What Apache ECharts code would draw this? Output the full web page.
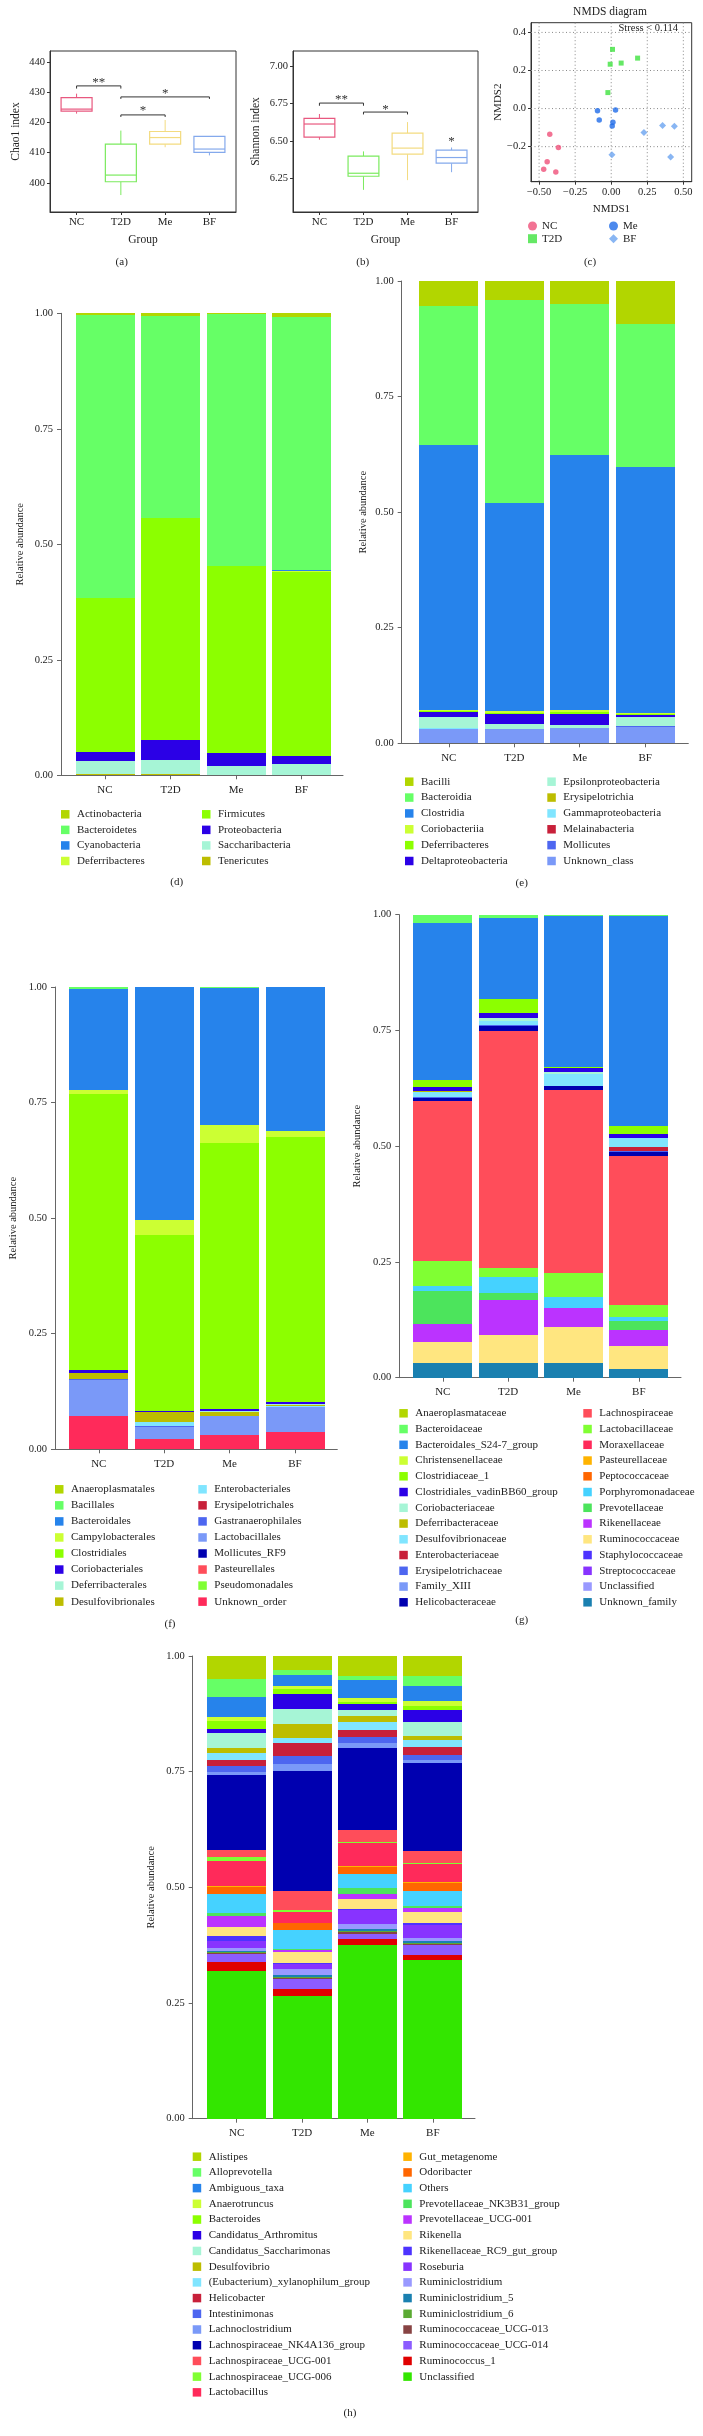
<!DOCTYPE html>
<html><head><meta charset="utf-8">
<script src="https://cdn.jsdelivr.net/npm/echarts@6/dist/echarts.min.js"></script>
<style>
html,body{margin:0;padding:0;background:#fff;}
#page{position:relative;width:703px;height:2436px;overflow:hidden;background:#fff;}
.panel{position:absolute;}
</style></head><body><div id="page"></div>
<script>
// ================= DATA =================
const groups = ['NC', 'T2D', 'Me', 'BF'];

// (a) Chao1 index: [min, q1, median, q3, max]
const chao1NC  = [422.9, 423.7, 424.4, 428.2, 429.5];
const chao1T2D = [396.0, 400.4, 402.6, 412.8, 417.3];
const chao1Me  = [411.8, 412.8, 415.0, 417.0, 420.8];
const chao1BF  = [409.1, 410.1, 411.2, 415.4, 415.4];
const chao1Ticks = [400, 410, 420, 430, 440];
// brackets: [fromGroup, toGroup, level, tickEnd]
const chao1Brackets = [[0, 1, 432.07, 431.18], [1, 3, 428.43, 427.77], [1, 2, 422.48, 421.8]];
const chao1Stars = [[0.5, 433.9, '**'], [2, 430.3, '*'], [1.5, 424.5, '*']];

// (b) Shannon index
const shannonNC  = [6.507, 6.525, 6.612, 6.650, 6.679];
const shannonT2D = [6.172, 6.263, 6.283, 6.397, 6.429];
const shannonMe  = [6.237, 6.411, 6.451, 6.551, 6.625];
const shannonBF  = [6.290, 6.350, 6.388, 6.437, 6.455];
const shannonTicks = [6.25, 6.50, 6.75, 7.00];
const shannonBrackets = [[0, 1, 6.752, 6.734], [1, 2, 6.692, 6.676]];
const shannonStars = [[0.5, 6.786, '**'], [1.5, 6.725, '*'], [3, 6.507, '*']];

// (c) NMDS
const nmdsNC  = [[-0.426, -0.135], [-0.366, -0.205], [-0.444, -0.279], [-0.468, -0.318], [-0.384, -0.333]];
const nmdsT2D = [[0.009, 0.311], [-0.007, 0.233], [0.069, 0.239], [0.183, 0.265], [-0.023, 0.084]];
const nmdsMe  = [[-0.095, -0.012], [0.030, -0.007], [-0.083, -0.060], [0.012, -0.072], [0.007, -0.091]];
const nmdsBF  = [[0.356, -0.089], [0.438, -0.093], [0.227, -0.126], [0.005, -0.242], [0.412, -0.254]];
const nmdsXTicks = [-0.5, -0.25, 0, 0.25, 0.5];
const nmdsYTicks = [-0.2, 0, 0.2, 0.4];
const abundTicks = [0, 0.25, 0.5, 0.75, 1];

// (d) phylum (legend order = top of stack first)
const phylumTaxa = ['Actinobacteria', 'Bacteroidetes', 'Cyanobacteria', 'Deferribacteres', 'Firmicutes', 'Proteobacteria', 'Saccharibacteria', 'Tenericutes'];
const phylumNC  = [0.004, 0.612, 0.000, 0.000, 0.334, 0.020, 0.028, 0.002];
const phylumT2D = [0.005, 0.439, 0.000, 0.000, 0.480, 0.043, 0.031, 0.002];
const phylumMe  = [0.001, 0.545, 0.000, 0.000, 0.405, 0.028, 0.020, 0.001];
const phylumBF  = [0.009, 0.547, 0.002, 0.001, 0.399, 0.017, 0.024, 0.001];

// (e) class
const classTaxa = ['Bacilli', 'Bacteroidia', 'Clostridia', 'Coriobacteriia', 'Deferribacteres', 'Deltaproteobacteria', 'Epsilonproteobacteria', 'Erysipelotrichia', 'Gammaproteobacteria', 'Melainabacteria', 'Mollicutes', 'Unknown_class'];
const classNC  = [0.053, 0.302, 0.573, 0.002, 0.003, 0.011, 0.022, 0.001, 0.001, 0.000, 0.001, 0.031];
const classT2D = [0.041, 0.439, 0.451, 0.003, 0.003, 0.021, 0.011, 0.000, 0.000, 0.000, 0.001, 0.030];
const classMe  = [0.050, 0.327, 0.552, 0.003, 0.004, 0.024, 0.006, 0.000, 0.000, 0.000, 0.001, 0.033];
const classBF  = [0.093, 0.310, 0.531, 0.002, 0.003, 0.005, 0.019, 0.000, 0.000, 0.000, 0.001, 0.036];

// (f) order
const orderTaxa = ['Anaeroplasmatales', 'Bacillales', 'Bacteroidales', 'Campylobacterales', 'Clostridiales', 'Coriobacteriales', 'Deferribacterales', 'Desulfovibrionales', 'Enterobacteriales', 'Erysipelotrichales', 'Gastranaerophilales', 'Lactobacillales', 'Mollicutes_RF9', 'Pasteurellales', 'Pseudomonadales', 'Unknown_order'];
const orderNC  = [0.001, 0.004, 0.217, 0.009, 0.598, 0.005, 0.002, 0.011, 0.001, 0.001, 0.001, 0.077, 0.000, 0.000, 0.000, 0.073];
const orderT2D = [0.000, 0.001, 0.503, 0.033, 0.380, 0.003, 0.000, 0.021, 0.009, 0.000, 0.002, 0.026, 0.000, 0.000, 0.000, 0.022];
const orderMe  = [0.000, 0.003, 0.296, 0.039, 0.575, 0.005, 0.002, 0.007, 0.001, 0.000, 0.001, 0.040, 0.001, 0.000, 0.000, 0.030];
const orderBF  = [0.000, 0.001, 0.310, 0.014, 0.573, 0.004, 0.002, 0.003, 0.001, 0.000, 0.001, 0.053, 0.000, 0.000, 0.000, 0.038];

// (g) family
const familyTaxa = ['Anaeroplasmataceae', 'Bacteroidaceae', 'Bacteroidales_S24-7_group', 'Christensenellaceae', 'Clostridiaceae_1', 'Clostridiales_vadinBB60_group', 'Coriobacteriaceae', 'Deferribacteraceae', 'Desulfovibrionaceae', 'Enterobacteriaceae', 'Erysipelotrichaceae', 'Family_XIII', 'Helicobacteraceae', 'Lachnospiraceae', 'Lactobacillaceae', 'Moraxellaceae', 'Pasteurellaceae', 'Peptococcaceae', 'Porphyromonadaceae', 'Prevotellaceae', 'Rikenellaceae', 'Ruminococcaceae', 'Staphylococcaceae', 'Streptococcaceae', 'Unclassified', 'Unknown_family'];
const familyNC  = [0.001, 0.018, 0.337, 0.001, 0.016, 0.007, 0.001, 0.001, 0.012, 0.000, 0.001, 0.001, 0.007, 0.345, 0.055, 0.000, 0.000, 0.000, 0.010, 0.071, 0.038, 0.046, 0.000, 0.000, 0.000, 0.032];
const familyT2D = [0.001, 0.007, 0.173, 0.001, 0.031, 0.010, 0.006, 0.000, 0.010, 0.000, 0.001, 0.001, 0.011, 0.510, 0.020, 0.000, 0.000, 0.000, 0.034, 0.016, 0.076, 0.061, 0.000, 0.000, 0.000, 0.031];
const familyMe  = [0.001, 0.002, 0.325, 0.000, 0.003, 0.008, 0.005, 0.000, 0.026, 0.000, 0.001, 0.000, 0.007, 0.395, 0.052, 0.000, 0.000, 0.000, 0.024, 0.001, 0.041, 0.077, 0.000, 0.000, 0.000, 0.032];
const familyBF  = [0.001, 0.002, 0.453, 0.000, 0.017, 0.010, 0.000, 0.000, 0.018, 0.010, 0.001, 0.001, 0.008, 0.322, 0.025, 0.000, 0.000, 0.001, 0.008, 0.020, 0.035, 0.049, 0.000, 0.000, 0.001, 0.018];

// (h) genus
const genusTaxa = ['Alistipes', 'Alloprevotella', 'Ambiguous_taxa', 'Anaerotruncus', 'Bacteroides', 'Candidatus_Arthromitus', 'Candidatus_Saccharimonas', 'Desulfovibrio', '(Eubacterium)_xylanophilum_group', 'Helicobacter', 'Intestinimonas', 'Lachnoclostridium', 'Lachnospiraceae_NK4A136_group', 'Lachnospiraceae_UCG-001', 'Lachnospiraceae_UCG-006', 'Lactobacillus', 'Gut_metagenome', 'Odoribacter', 'Others', 'Prevotellaceae_NK3B31_group', 'Prevotellaceae_UCG-001', 'Rikenella', 'Rikenellaceae_RC9_gut_group', 'Roseburia', 'Ruminiclostridium', 'Ruminiclostridium_5', 'Ruminiclostridium_6', 'Ruminococcaceae_UCG-013', 'Ruminococcaceae_UCG-014', 'Ruminococcus_1', 'Unclassified'];
const genusNC  = [0.049, 0.040, 0.042, 0.009, 0.017, 0.010, 0.031, 0.012, 0.015, 0.012, 0.013, 0.007, 0.162, 0.016, 0.007, 0.055, 0.002, 0.015, 0.042, 0.006, 0.023, 0.020, 0.012, 0.013, 0.007, 0.003, 0.002, 0.002, 0.017, 0.020, 0.319];
const genusT2D = [0.030, 0.011, 0.024, 0.007, 0.010, 0.032, 0.032, 0.031, 0.010, 0.029, 0.017, 0.016, 0.259, 0.042, 0.003, 0.023, 0.002, 0.014, 0.042, 0.001, 0.005, 0.023, 0.002, 0.012, 0.013, 0.003, 0.003, 0.003, 0.021, 0.015, 0.265];
const genusMe  = [0.043, 0.009, 0.039, 0.008, 0.005, 0.013, 0.013, 0.013, 0.017, 0.014, 0.015, 0.009, 0.177, 0.028, 0.001, 0.049, 0.002, 0.016, 0.031, 0.013, 0.011, 0.020, 0.002, 0.031, 0.012, 0.004, 0.002, 0.003, 0.012, 0.013, 0.375];
const genusBF  = [0.044, 0.021, 0.033, 0.010, 0.009, 0.026, 0.029, 0.010, 0.015, 0.016, 0.012, 0.006, 0.190, 0.026, 0.002, 0.040, 0.002, 0.016, 0.033, 0.005, 0.008, 0.025, 0.003, 0.029, 0.007, 0.004, 0.002, 0.002, 0.021, 0.011, 0.343];

// ================= STYLE =================
const palette = ['#B2D600', '#66FF66', '#2683EB', '#CCFF33', '#8CFF00', '#2B00E6', '#A6F5D6', '#BDBD00', '#80E5FF', '#C8203A', '#4D66F0', '#7A99F8', '#0000B0', '#FF4D5A', '#80FF33', '#FF2A5A', '#FFB300', '#FF6600', '#45D2FF', '#4CE45C', '#BB33FF', '#FFE680', '#4D33FF', '#8833FF', '#9999FF', '#1A80B0', '#5BAA33', '#874343', '#8C5CFF', '#E00000', '#33E600'];
const boxColors = ['#E8587F', '#7BEA5E', '#F3DB80', '#84A9EC'];
const nmdsColors = ['#EF5079', '#3EE23E', '#1F6CE8', '#6CA4F0'];
const FONT = 'Liberation Serif';
const TXT = '#222';
const AX = '#333';
const BAX = '#666';
const BAR_W = 0.9;

const PANELS = {
  abc: {x: 0, y: 0, w: 703, h: 272},
  d: {x: 0, y: 272, w: 352, h: 628},
  e: {x: 352, y: 272, w: 351, h: 628},
  f: {x: 0, y: 900, w: 352, h: 735},
  g: {x: 352, y: 900, w: 351, h: 735},
  h: {x: 0, y: 1635, w: 703, h: 801}
};

function makePanel(p) {
  const d = document.createElement('div');
  d.className = 'panel';
  d.style.left = p.x + 'px'; d.style.top = p.y + 'px';
  d.style.width = p.w + 'px'; d.style.height = p.h + 'px';
  document.getElementById('page').appendChild(d);
  return echarts.init(d, null, {renderer: 'canvas', width: p.w, height: p.h});
}

function gtext(p, x, y, text, size, align) {
  const a = align || 'center';
  return {type: 'text', x: x - p.x, y: y - p.y, silent: true,
    style: {text: text, fill: TXT, font: size + 'px "' + FONT + '"', textAlign: a, textVerticalAlign: 'middle', align: a, verticalAlign: 'middle'}};
}

function vAxis(o) {
  return {
    type: 'value', gridIndex: o.grid || 0, min: o.min, max: o.max,
    axisLine: {show: true, onZero: false, lineStyle: {color: o.lineColor || AX, width: 1}},
    axisTick: {show: true, inside: false, length: o.tickLen || 3, customValues: o.ticks, lineStyle: {color: o.lineColor || AX, width: 1}},
    axisLabel: {show: true, customValues: o.ticks, formatter: o.fmt, margin: o.margin || 5, fontSize: o.fontSize || 10.5, color: TXT, fontFamily: FONT, hideOverlap: false},
    splitLine: {show: false},
    name: o.name || '', nameLocation: 'middle', nameGap: o.nameGap || 25, nameMoveOverlap: false,
    nameTextStyle: {fontSize: o.nameSize || 11, color: TXT, fontFamily: FONT}
  };
}

const minus = s => s.replace('-', '\u2212');

// ---------- custom renderers ----------
function boxRender(params, api) {
  const x = api.value(0);
  const c = boxColors[params.dataIndex];
  const w = api.size([0.7, 0])[0];
  const pMin = api.coord([x, api.value(1)]);
  const pQ1 = api.coord([x, api.value(2)]);
  const pMed = api.coord([x, api.value(3)]);
  const pQ3 = api.coord([x, api.value(4)]);
  const pMax = api.coord([x, api.value(5)]);
  const cx = pQ1[0];
  return {type: 'group', children: [
    {type: 'line', shape: {x1: cx, y1: pMax[1], x2: cx, y2: pQ3[1]}, style: {stroke: c, lineWidth: 1}},
    {type: 'line', shape: {x1: cx, y1: pQ1[1], x2: cx, y2: pMin[1]}, style: {stroke: c, lineWidth: 1}},
    {type: 'rect', shape: {x: cx - w / 2, y: pQ3[1], width: w, height: pQ1[1] - pQ3[1]}, style: {fill: '#fff', stroke: c, lineWidth: 1.2}},
    {type: 'line', shape: {x1: cx - w / 2, y1: pMed[1], x2: cx + w / 2, y2: pMed[1]}, style: {stroke: c, lineWidth: 1.2}}
  ]};
}
function bracketRender(params, api) {
  const a = api.coord([api.value(0), api.value(3)]);
  const b = api.coord([api.value(0), api.value(2)]);
  const c = api.coord([api.value(1), api.value(2)]);
  const d = api.coord([api.value(1), api.value(3)]);
  return {type: 'polyline', shape: {points: [a, b, c, d]}, style: {stroke: '#333', lineWidth: 1, fill: null}};
}
function boxSeries(gi, rows) {
  return {type: 'custom', xAxisIndex: gi, yAxisIndex: gi, silent: true, renderItem: boxRender,
    encode: {x: 0, y: [1, 2, 3, 4, 5]}, data: rows.map((r, i) => [i].concat(r))};
}
function bracketSeries(gi, br) {
  return {type: 'custom', xAxisIndex: gi, yAxisIndex: gi, silent: true, renderItem: bracketRender,
    encode: {x: [0, 1], y: [2, 3]}, data: br};
}
function starSeries(gi, stars) {
  return {type: 'custom', xAxisIndex: gi, yAxisIndex: gi, silent: true, encode: {x: 0, y: 1},
    data: stars.map(s => [s[0], s[1]]),
    renderItem: (params, api) => {
      const pt = api.coord([api.value(0), api.value(1)]);
      return {type: 'text', x: pt[0], y: pt[1] + 2, style: {text: stars[params.dataIndex][2], fill: '#333',
        font: '13px "' + FONT + '"', textAlign: 'center', textVerticalAlign: 'middle', align: 'center', verticalAlign: 'middle'}};
    }};
}
function gridLineSeries(gi, ticks, dir) {
  return {type: 'custom', xAxisIndex: gi, yAxisIndex: gi, silent: true, z: 1, encode: {x: 0, y: 1},
    data: ticks.map(v => dir === 'x' ? [v, 0] : [0, v]),
    renderItem: (params, api) => {
      const cs = params.coordSys;
      const pt = api.coord([api.value(0), api.value(1)]);
      const shape = dir === 'x' ? {x1: pt[0], y1: cs.y, x2: pt[0], y2: cs.y + cs.height}
                                : {x1: cs.x, y1: pt[1], x2: cs.x + cs.width, y2: pt[1]};
      return {type: 'line', shape: shape, style: {stroke: '#888', lineWidth: 1, lineDash: [1, 2.5]}};
    }};
}
function barRender(params, api) {
  const gi = api.value(0);
  const a = api.coord([gi, api.value(1)]);
  const b = api.coord([gi, api.value(2)]);
  const h = Math.round(a[1]) - Math.round(b[1]);
  if (h <= 0) return null;
  const w = api.size([BAR_W, 0])[0];
  return {type: 'rect', shape: {x: Math.round(a[0] - w / 2), y: Math.round(b[1]), width: Math.round(w), height: h},
    style: {fill: api.visual('color')}};
}

// ================= PANEL a, b, c =================
(function () {
  const p = PANELS.abc;
  const chart = makePanel(p);
  const frame = {show: true, borderColor: AX, borderWidth: 1, backgroundColor: 'transparent', outerBoundsMode: 'none', containLabel: false};
  const grpFmt = v => groups[Math.round(v)];
  chart.setOption({
    animation: false,
    backgroundColor: 'transparent',
    textStyle: {fontFamily: FONT},
    grid: [
      Object.assign({left: 50, top: 51, width: 186, height: 161}, frame),
      Object.assign({left: 293, top: 51, width: 185, height: 161}, frame),
      Object.assign({left: 531, top: 22.7, width: 160.7, height: 159}, frame)
    ],
    xAxis: [
      vAxis({grid: 0, min: -0.6, max: 3.6, ticks: [0, 1, 2, 3], fmt: grpFmt, margin: 5, fontSize: 11, name: 'Group', nameGap: 22, nameSize: 11.5}),
      vAxis({grid: 1, min: -0.6, max: 3.6, ticks: [0, 1, 2, 3], fmt: grpFmt, margin: 5, fontSize: 11, name: 'Group', nameGap: 22, nameSize: 11.5}),
      vAxis({grid: 2, min: -0.556, max: 0.558, ticks: nmdsXTicks, fmt: v => minus(v.toFixed(2)), margin: 5, fontSize: 10.5, name: 'NMDS1', nameGap: 22, nameSize: 11})
    ],
    yAxis: [
      vAxis({grid: 0, min: 390.4, max: 443.6, ticks: chao1Ticks, fmt: v => String(v), margin: 5, fontSize: 10.5, name: 'Chao1 index', nameGap: 28, nameSize: 11.5}),
      vAxis({grid: 1, min: 6.024, max: 7.10, ticks: shannonTicks, fmt: v => v.toFixed(2), margin: 5, fontSize: 10.5, name: 'Shannon index', nameGap: 31, nameSize: 11.5}),
      vAxis({grid: 2, min: -0.384, max: 0.451, ticks: nmdsYTicks, fmt: v => minus(v.toFixed(1)), margin: 5, fontSize: 10.5, name: 'NMDS2', nameGap: 27, nameSize: 11})
    ],
    legend: [
      {data: ['NC', 'T2D'], orient: 'vertical', left: 528, top: 220, padding: 0, itemWidth: 9, itemHeight: 9, itemGap: 0.7, selectedMode: false,
        textStyle: {fontSize: 11, lineHeight: 12, color: TXT, fontFamily: FONT}},
      {data: ['Me', 'BF'], orient: 'vertical', left: 609, top: 220, padding: 0, itemWidth: 9, itemHeight: 9, itemGap: 0.7, selectedMode: false,
        textStyle: {fontSize: 11, lineHeight: 12, color: TXT, fontFamily: FONT}}
    ],
    graphic: [
      gtext(p, 121.7, 262, '(a)', 11),
      gtext(p, 362.7, 262, '(b)', 11),
      gtext(p, 590, 262, '(c)', 11),
      gtext(p, 610, 11.7, 'NMDS diagram', 11.5),
      gtext(p, 678, 28.5, 'Stress < 0.114', 10.5, 'right')
    ],
    series: [
      boxSeries(0, [chao1NC, chao1T2D, chao1Me, chao1BF]),
      bracketSeries(0, chao1Brackets),
      starSeries(0, chao1Stars),
      boxSeries(1, [shannonNC, shannonT2D, shannonMe, shannonBF]),
      bracketSeries(1, shannonBrackets),
      starSeries(1, shannonStars),
      gridLineSeries(2, nmdsXTicks, 'x'),
      gridLineSeries(2, nmdsYTicks, 'y'),
      {type: 'scatter', name: 'NC', xAxisIndex: 2, yAxisIndex: 2, data: nmdsNC, symbol: 'circle', symbolSize: 5.5, itemStyle: {color: nmdsColors[0]}, z: 3},
      {type: 'scatter', name: 'T2D', xAxisIndex: 2, yAxisIndex: 2, data: nmdsT2D, symbol: 'rect', symbolSize: 5, itemStyle: {color: nmdsColors[1]}, z: 3},
      {type: 'scatter', name: 'Me', xAxisIndex: 2, yAxisIndex: 2, data: nmdsMe, symbol: 'circle', symbolSize: 5.5, itemStyle: {color: nmdsColors[2]}, z: 3},
      {type: 'scatter', name: 'BF', xAxisIndex: 2, yAxisIndex: 2, data: nmdsBF, symbol: 'diamond', symbolSize: 7, itemStyle: {color: nmdsColors[3]}, z: 3}
    ]
  });
})();

// ================= STACKED BAR PANELS =================
function barPanel(p, cfg) {
  const chart = makePanel(p);
  const n = cfg.taxa.length;
  const bases = cfg.values.map(() => 0);
  const series = [];
  for (let k = n - 1; k >= 0; k--) {
    const data = cfg.values.map((vals, gi) => { const y0 = bases[gi]; const y1 = y0 + vals[k]; bases[gi] = y1; return [gi, y0, y1]; });
    series.push({type: 'custom', name: cfg.taxa[k], itemStyle: {color: palette[k]}, encode: {x: 0, y: [1, 2]},
      data: data, renderItem: barRender, silent: true});
  }
  const half = Math.ceil(n / 2);
  const lg = {orient: 'vertical', padding: 0, itemWidth: 8.5, itemHeight: 8.5, itemGap: cfg.pitch - 12, icon: 'rect', selectedMode: false,
    top: cfg.legendTop - 6 - p.y,
    textStyle: {fontSize: 11, lineHeight: 12, color: TXT, fontFamily: FONT, padding: [0, 0, 0, 2.5]}};
  chart.setOption({
    animation: false,
    backgroundColor: 'transparent',
    textStyle: {fontFamily: FONT},
    grid: {left: cfg.left - p.x, top: cfg.top - p.y, width: cfg.right - cfg.left, height: cfg.bottom - cfg.top, containLabel: false, outerBoundsMode: 'none'},
    xAxis: vAxis({min: cfg.xMin, max: cfg.xMax, ticks: [0, 1, 2, 3], fmt: v => groups[Math.round(v)], margin: 9, fontSize: 11, lineColor: BAX, tickLen: 4}),
    yAxis: vAxis({min: 0, max: 1, ticks: abundTicks, fmt: v => v.toFixed(2), margin: 8, fontSize: 10.5, lineColor: BAX, tickLen: 4,
      name: 'Relative abundance', nameGap: cfg.nameGap, nameSize: 10.5}),
    legend: [
      Object.assign({}, lg, {left: cfg.legendLeft[0] - p.x, data: cfg.taxa.slice(0, half)}),
      Object.assign({}, lg, {left: cfg.legendLeft[1] - p.x, data: cfg.taxa.slice(half)})
    ],
    graphic: [gtext(p, cfg.label[0], cfg.label[1], cfg.labelText, 11)],
    series: series
  });
}

barPanel(PANELS.d, {taxa: phylumTaxa, values: [phylumNC, phylumT2D, phylumMe, phylumBF],
  left: 61, top: 313.3, right: 343, bottom: 775.3, xMin: -0.672, xMax: 3.634, nameGap: 35,
  legendLeft: [61, 202], legendTop: 814.3, pitch: 15.57, label: [176.7, 882.3], labelText: '(d)'});

barPanel(PANELS.e, {taxa: classTaxa, values: [classNC, classT2D, classMe, classBF],
  left: 401.7, top: 281, right: 688.3, bottom: 743.3, xMin: -0.719, xMax: 3.658, nameGap: 33,
  legendLeft: [405, 547.3], legendTop: 781.7, pitch: 15.86, label: [521.7, 882.7], labelText: '(e)'});

barPanel(PANELS.f, {taxa: orderTaxa, values: [orderNC, orderT2D, orderMe, orderBF],
  left: 55, top: 987, right: 337.3, bottom: 1449.3, xMin: -0.670, xMax: 3.647, nameGap: 36,
  legendLeft: [55, 198.3], legendTop: 1489.3, pitch: 16.05, label: [170, 1624], labelText: '(f)'});

barPanel(PANELS.g, {taxa: familyTaxa, values: [familyNC, familyT2D, familyMe, familyBF],
  left: 399.3, top: 914.7, right: 681, bottom: 1377.7, xMin: -0.666, xMax: 3.646, nameGap: 36.6,
  legendLeft: [399.3, 583.3], legendTop: 1413.3, pitch: 15.75, label: [521.7, 1620], labelText: '(g)'});

barPanel(PANELS.h, {taxa: genusTaxa, values: [genusNC, genusT2D, genusMe, genusBF],
  left: 192.7, top: 1656, right: 475, bottom: 2118.7, xMin: -0.673, xMax: 3.646, nameGap: 36,
  legendLeft: [192.7, 403.3], legendTop: 2156.7, pitch: 15.71, label: [350, 2413.3], labelText: '(h)'});
</script>
</body></html>
